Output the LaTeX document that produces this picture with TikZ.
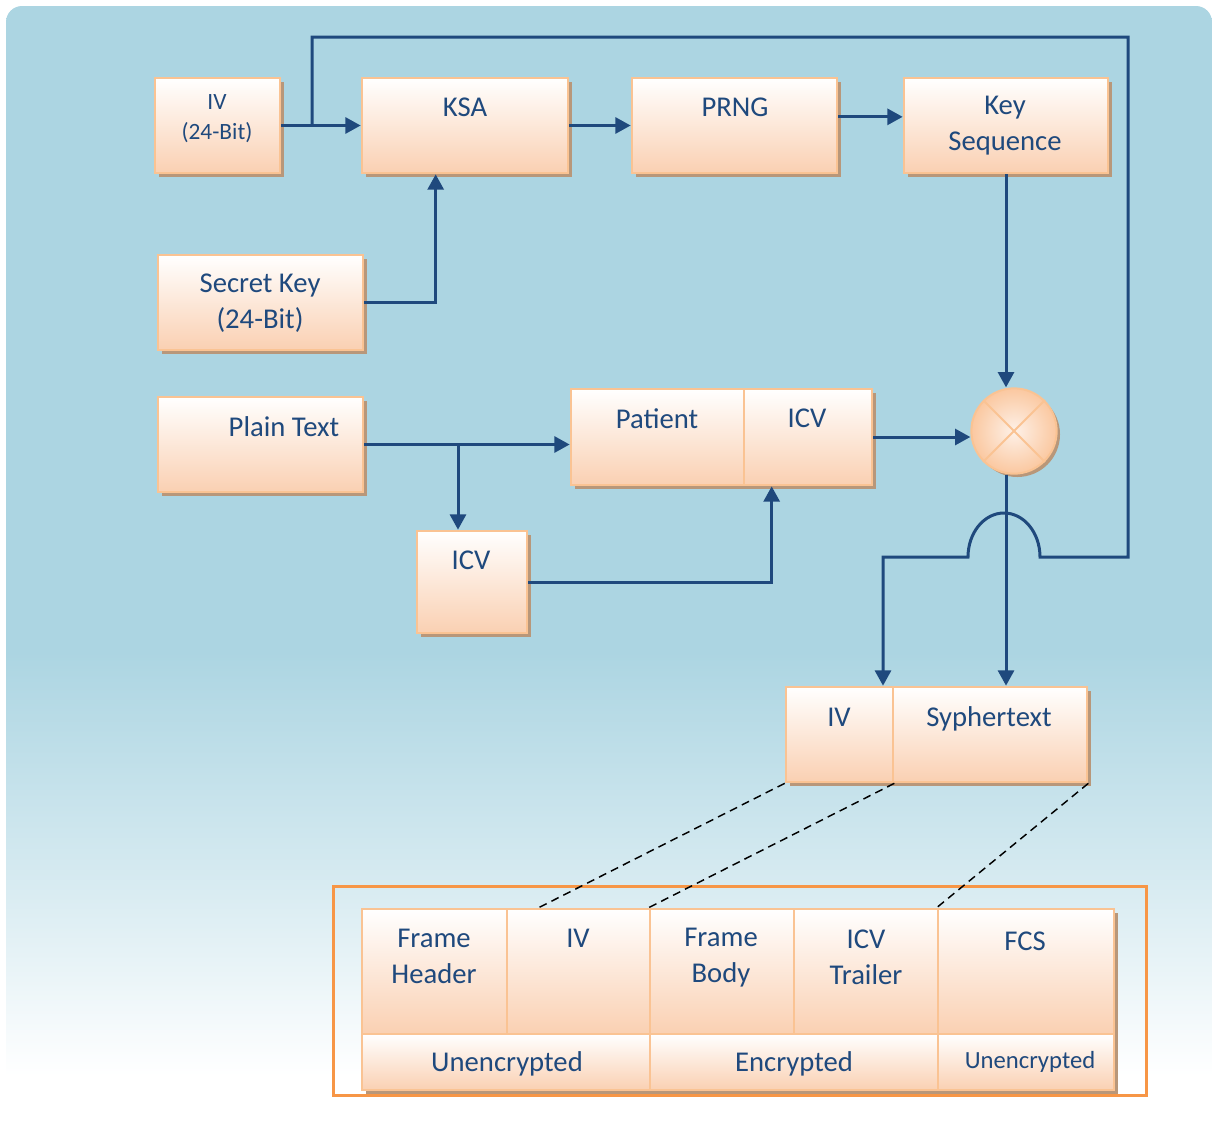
\documentclass[tikz,border=0pt]{standalone}
\usepackage{fontspec}
\setmainfont{Carlito}
\usetikzlibrary{arrows.meta,fit,shadows,positioning}

\definecolor{bgblue}{HTML}{ACD5E2}
\definecolor{peach}{HTML}{FAD0B2}
\definecolor{peachline}{HTML}{FAC393}
\definecolor{shadowbrown}{HTML}{B8977A}
\definecolor{textblue}{HTML}{1F497D}
\definecolor{frameorange}{HTML}{F79646}

\pgfdeclareverticalshading{bgfade}{100bp}{color(0bp)=(white); color(27bp)=(white); color(36bp)=(bgblue!50!white); color(46bp)=(bgblue); color(100bp)=(bgblue)}

\tikzset{
  box/.style={draw=peachline, line width=2pt, top color=white, bottom color=peach, inner sep=0pt,
    drop shadow={shadow xshift=3pt, shadow yshift=-3pt, fill=shadowbrown, opacity=1}},
  lbl/.style={text=textblue, align=center, font=\fontsize{21.5}{27}\selectfont},
  smalllbl/.style={lbl, font=\fontsize{17.5}{22.5}\selectfont},
  wire/.style={draw=textblue, line width=2.25pt},
  arr/.style={wire, -{Triangle[length=11.5pt,width=12pt]}},
  xorc/.style={circle, draw=peachline, line width=1.5pt, inner color=peach!30, outer color=peach!90!orange,
    minimum size=64pt, drop shadow={shadow xshift=2.5pt, shadow yshift=-2.5pt, fill=shadowbrown, opacity=1}},
  link/.style={line width=1.1pt, dash pattern=on 6pt off 4pt}
}

\begin{document}
\begin{tikzpicture}[x=0.75pt, y=-0.75pt]
  \useasboundingbox (0,0) rectangle (1212,1122);
  \path[shading=bgfade, rounded corners=12pt] (6,6) rectangle (1212,1120);

  % key stream part
  \node[box, fit={(155,78) (280,173)}] (iv) {};
  \node[box, fit={(362,78) (568,173)}] (ksa) {};
  \node[box, fit={(632,78) (837,173)}] (prng) {};
  \node[box, fit={(904,78) (1108,173)}] (keyseq) {};
  \node[box, fit={(158,255) (363,350)}] (skey) {};
  \node[smalllbl] (ivt) at (217,119) {IV\\(24-Bit)};
  \node[lbl] (ksat) at (465,107) {KSA};
  \node[lbl] (prngt) at (735,107) {PRNG};
  \node[lbl] (keyseqt) at (1005,126) {Key\\Sequence};
  \node[lbl] (skeyt) at (260,303) {Secret Key\\(24-Bit)};

  % data part
  \node[box, fit={(158,397) (363,492)}] (plain) {};
  \node[box, fit={(571,389) (744,485)}] (pat) {};
  \node[box, fit={(744,389) (872,485)}] (icv1) {};
  \node[box, fit={(417,531) (527,633)}] (icv2) {};
  \node[lbl] (plaint) at (284,427) {Plain Text};
  \node[lbl] (patt) at (657,419) {Patient};
  \node[lbl] (icv1t) at (807,418) {ICV};
  \node[lbl] (icv2t) at (471,560) {ICV};
  \node[xorc] (xor) at (1014,431) {};
  \draw[peachline, line width=1.5pt] (xor.north west) -- (xor.south east);
  \draw[peachline, line width=1.5pt] (xor.north east) -- (xor.south west);

  % output
  \node[box, fit={(786,687) (893,782)}] (ivc) {};
  \node[box, fit={(893,687) (1087,782)}] (syph) {};
  \node[lbl] (ivct) at (839,717) {IV};
  \node[lbl] (sypht) at (989,719) {Syphertext};

  % frame
  \draw[frameorange, line width=2.25pt] (333,886) rectangle (1146,1095);
  \node[box, fit={(362,909) (507,1034)}] (fh) {};
  \node[box, fit={(507,909) (650,1034)}] (fiv) {};
  \node[box, fit={(650,909) (794,1034)}] (fb) {};
  \node[box, fit={(794,909) (938,1034)}] (ft) {};
  \node[box, fit={(938,909) (1114,1034)}] (fcs) {};
  \node[box, fit={(362,1034) (650,1090)}] (u1) {};
  \node[box, fit={(650,1034) (938,1090)}] (en) {};
  \node[box, fit={(938,1034) (1114,1090)}] (u2) {};
  \node[lbl] (fht) at (434,956) {Frame\\Header};
  \node[lbl] (fivt) at (578,938) {IV};
  \node[lbl] (fbt) at (721,958) {Frame\\Body};
  \node[lbl] (ftt) at (866,957) {ICV\\Trailer};
  \node[lbl] (fcst) at (1025,941) {FCS};
  \node[lbl] (u1t) at (507,1064) {Unencrypted};
  \node[lbl] (ent) at (794,1064) {Encrypted};
  \node[lbl, font=\fontsize{18.5}{21}\selectfont] (u2t) at (1030,1062) {Unencrypted};

  \draw[link] (ivc.south west) -- ([xshift=24.75pt]fiv.north west);
  \draw[link] (ivc.south east) -- (fb.north west);
  \draw[link] (syph.south east) -- (fcs.north west);

  % connectors
  \coordinate (br1) at (312,126);
  \coordinate (tr) at (1128,37);
  \coordinate (hopR) at (1040,557);
  \coordinate (tip) at (883,557);
  \coordinate (br2) at (458,446);

  \draw[arr] (iv) -- (ksa);
  \draw[arr] (ksa) -- (prng);
  \draw[arr] ([yshift=6.5pt]prng.east) -- ([yshift=6.5pt]keyseq.west);
  \draw[arr] (skey.east) -| ([xshift=56.25pt]ksa.south west);
  \draw[arr] (keyseq.south) -- (keyseq.south |- xor.north);
  \draw[arr] (icv1.east) -- (icv1.east -| xor.west);
  \draw[arr] (keyseq.south |- xor.south) -- (keyseq.south |- syph.north);
  \draw[arr] (plain.east) -- (plain.east -| pat.west);
  \draw[arr] (br2) -- (br2 |- icv2.north);
  \draw[arr] (icv2.east) -| ([xshift=21.75pt]icv1.south west);
  \draw[arr] (br1) |- (tr) |- (hopR) arc[start angle=0, end angle=-180, x radius=36, y radius=44]
    -- (tip) -- (tip |- ivc.north);
\end{tikzpicture}
\end{document}
